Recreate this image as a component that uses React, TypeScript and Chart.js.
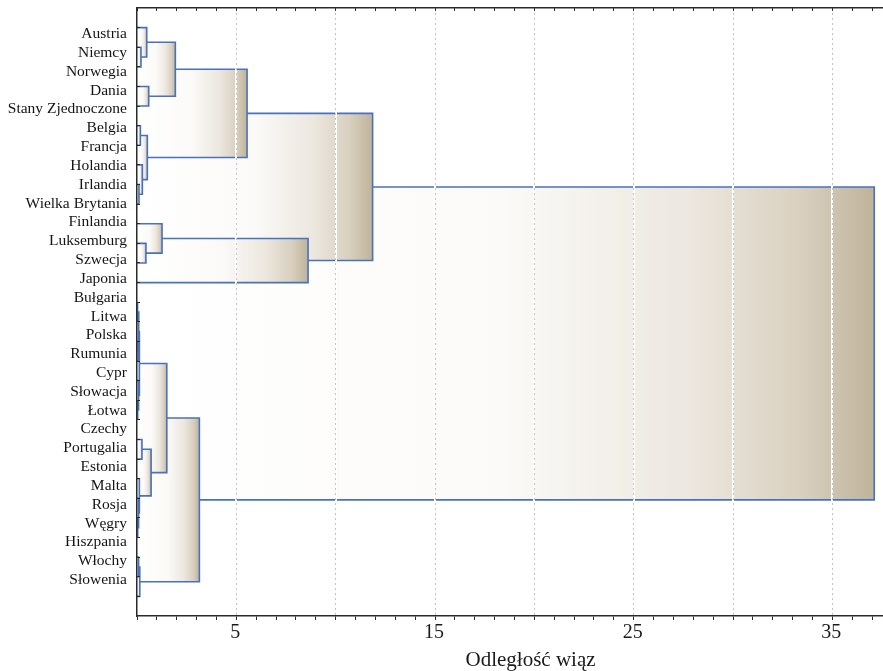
import React, { useEffect, useRef } from 'react';
import { Chart, registerables } from 'chart.js';

Chart.register(...registerables);

// ---- data ----
const leafNames = [
  'Austria', 'Niemcy', 'Norwegia', 'Dania', 'Stany Zjednoczone', 'Belgia', 'Francja', 'Holandia',
  'Irlandia', 'Wielka Brytania', 'Finlandia', 'Luksemburg', 'Szwecja', 'Japonia', 'Bułgaria', 'Litwa',
  'Polska', 'Rumunia', 'Cypr', 'Słowacja', 'Łotwa', 'Czechy', 'Portugalia', 'Estonia', 'Malta',
  'Rosja', 'Węgry', 'Hiszpania', 'Włochy', 'Słowenia',
];

// merge k creates cluster id 30 + k (ids < 30 are leaves)
const mergeLeft = [8, 5, 1, 7, 11, 0, 31, 3, 10, 35, 39, 38, 40, 14, 16, 19, 43, 18, 46, 25, 24, 23, 21, 52, 48, 27, 55, 54, 42];
const mergeRight = [9, 6, 2, 30, 12, 32, 33, 4, 34, 37, 36, 13, 41, 15, 17, 20, 44, 45, 47, 26, 49, 50, 22, 51, 53, 28, 29, 56, 57];
const mergeHeight = [0.10, 0.17, 0.20, 0.27, 0.45, 0.49, 0.52, 0.59, 1.26, 1.93, 5.54, 8.61, 11.86, 0.04, 0.06, 0.05, 0.09, 0.08, 0.12, 0.05, 0.08, 0.12, 0.25, 0.71, 1.50, 0.08, 0.14, 3.14, 37.11];

const xTickValues = Array.from({ length: 38 }, (_, i) => i);
const xLabelValues = [5, 15, 25, 35];
const xGridValues = [5, 10, 15, 20, 25, 30, 35];
const axisTitle = 'Odległość wiąz';

// ---- styles ----
const SERIF = "'Liberation Serif', 'Times New Roman', serif";
const LINE_BLUE = '#4a70c0';
const AXIS = '#2a2a2a';
const fillStopPos = [0, 0.5, 0.75, 0.9, 1];
const fillStopCol = ['#ffffff', '#fbfaf8', '#ece7df', '#d9d0c0', '#bfb39a'];

function buildTree() {
  const pos: number[] = leafNames.map((_, i) => i);
  const hgt: number[] = leafNames.map(() => 0);
  mergeHeight.forEach((h, k) => {
    pos.push((pos[mergeLeft[k]] + pos[mergeRight[k]]) / 2);
    hgt.push(h);
  });
  return { pos, hgt };
}

function gradientFor(chart: any, h: number) {
  const xs = chart.scales && chart.scales.x;
  if (!chart.chartArea || !xs) return 'rgba(0,0,0,0)';
  const x0 = xs.getPixelForValue(0);
  const x1 = xs.getPixelForValue(h);
  if (!(x1 - x0 > 0.5)) return fillStopCol[fillStopCol.length - 1];
  const g = chart.ctx.createLinearGradient(x0, 0, x1, 0);
  fillStopPos.forEach((p, i) => g.addColorStop(p, fillStopCol[i]));
  return g;
}

function buildDatasets() {
  const { pos, hgt } = buildTree();
  const ds: any[] = [];
  // bracket lines (on top)
  mergeHeight.forEach((h, k) => {
    const a = mergeLeft[k];
    const b = mergeRight[k];
    ds.push({
      data: [
        { x: hgt[a], y: pos[a] },
        { x: h, y: pos[a] },
        { x: h, y: pos[b] },
        { x: hgt[b], y: pos[b] },
      ],
      borderColor: LINE_BLUE,
      borderWidth: 1.6,
      pointRadius: 0,
      fill: false,
      order: -1,
      xAxisID: 'x',
      yAxisID: 'y',
    });
  });
  // gradient rectangles (top edge filled to bottom edge)
  mergeHeight.forEach((h, k) => {
    const ya = pos[mergeLeft[k]];
    const yb = pos[mergeRight[k]];
    const top = Math.min(ya, yb);
    const bot = Math.max(ya, yb);
    ds.push({
      data: [{ x: 0, y: top }, { x: h, y: top }],
      fill: '+1',
      backgroundColor: (c: any) => gradientFor(c.chart, h),
      borderWidth: 0,
      borderColor: 'rgba(0,0,0,0)',
      pointRadius: 0,
      order: 100 + h,
      xAxisID: 'x',
      yAxisID: 'y',
    });
    ds.push({
      data: [{ x: 0, y: bot }, { x: h, y: bot }],
      fill: false,
      borderWidth: 0,
      borderColor: 'rgba(0,0,0,0)',
      pointRadius: 0,
      order: 100 + h,
      xAxisID: 'x',
      yAxisID: 'y',
    });
  });
  return ds;
}

const X_MAX = 37.5;
const LABEL_MIN = -1.381;
const LABEL_MAX = 30.91;

export default function App() {
  const ref = useRef<HTMLCanvasElement>(null);
  useEffect(() => {
    if (!ref.current) return;
    const chart = new Chart(ref.current, {
      type: 'line',
      data: { datasets: buildDatasets() },
      options: {
        animation: false,
        responsive: false,
        devicePixelRatio: 1,
        events: [],
        layout: { padding: { top: 8, right: 1, left: 0, bottom: 0 } },
        plugins: {
          legend: { display: false },
          tooltip: { enabled: false },
          filler: { propagate: false },
        },
        elements: { line: { tension: 0 }, point: { radius: 0 } },
        scales: {
          x: {
            axis: 'x',
            type: 'linear',
            position: 'bottom',
            min: 0,
            max: X_MAX,
            weight: 0,
            afterBuildTicks: (s: any) => { s.ticks = xTickValues.map((v) => ({ value: v })); },
            afterFit: (s: any) => { s.height = 55; },
            ticks: {
              autoSkip: false,
              maxRotation: 0,
              padding: 1,
              labelOffset: -1,
              color: '#1a1a1a',
              font: { family: SERIF, size: 20 },
              callback: (v: any) => (xLabelValues.includes(Number(v)) ? String(v) : ''),
            },
            grid: {
              z: 2,
              lineWidth: 1,
              color: (c: any) => (c.tick && xGridValues.includes(c.tick.value) ? '#c4c4c4' : 'rgba(0,0,0,0)'),
              tickColor: AXIS,
              tickLength: 4,
              tickWidth: 1,
            },
            border: { display: true, color: AXIS, width: 1.5, dash: [2, 3], z: 3 },
            title: {
              display: true,
              text: '\u00a0\u00a0\u00a0\u00a0\u00a0\u00a0\u00a0\u00a0' + axisTitle,
              color: '#1a1a1a',
              font: { family: SERIF, size: 21 },
              padding: { top: 0, bottom: -2 },
            },
          },
          xw: {
            axis: 'x',
            type: 'linear',
            position: 'bottom',
            min: 0,
            max: X_MAX,
            weight: 1,
            afterBuildTicks: (s: any) => { s.ticks = xGridValues.map((v) => ({ value: v })); },
            afterFit: (s: any) => { s.height = 0; },
            ticks: { display: false },
            grid: { z: 1, color: '#ffffff', lineWidth: 2, drawTicks: false },
            border: { display: false },
          },
          xt: {
            axis: 'x',
            type: 'linear',
            position: 'top',
            min: 0,
            max: X_MAX,
            afterBuildTicks: (s: any) => { s.ticks = xTickValues.map((v) => ({ value: v })); },
            afterFit: (s: any) => { s.height = 0; },
            ticks: { display: false },
            grid: { z: 3, drawOnChartArea: false, tickLength: -3, tickColor: AXIS, tickWidth: 1 },
            border: { display: true, color: AXIS, width: 1.5, z: 3 },
          },
          y: {
            axis: 'y',
            type: 'linear',
            position: 'left',
            reverse: true,
            min: -1,
            max: 30,
            weight: 0,
            afterBuildTicks: (s: any) => { s.ticks = leafNames.map((_, i) => ({ value: i })); },
            afterFit: (s: any) => { s.width = 0; s.paddingTop = 0; s.paddingBottom = 0; },
            ticks: { display: false },
            grid: { z: 3, drawOnChartArea: false, tickLength: -3, tickColor: AXIS, tickWidth: 1 },
            border: { display: true, color: AXIS, width: 1.5, z: 3 },
          },
          yl: {
            axis: 'y',
            type: 'linear',
            position: 'left',
            reverse: true,
            min: LABEL_MIN,
            max: LABEL_MAX,
            weight: 1,
            afterBuildTicks: (s: any) => { s.ticks = leafNames.map((_, i) => ({ value: i })); },
            afterFit: (s: any) => { s.width = 137; s.paddingTop = 0; s.paddingBottom = 0; },
            ticks: {
              autoSkip: false,
              padding: 10,
              color: '#141414',
              font: { family: SERIF, size: 15.5 },
              callback: (v: any) => leafNames[Math.round(Number(v))] ?? '',
            },
            grid: { display: false, drawTicks: false },
            border: { display: false },
          },
        },
      } as any,
    });
    return () => chart.destroy();
  }, []);

  return (
    <div style={{ position: 'absolute', left: 0, top: 0, width: 883, height: 671, background: '#ffffff' }}>
      <canvas ref={ref} width={883} height={671} style={{ display: 'block' }} />
    </div>
  );
}
